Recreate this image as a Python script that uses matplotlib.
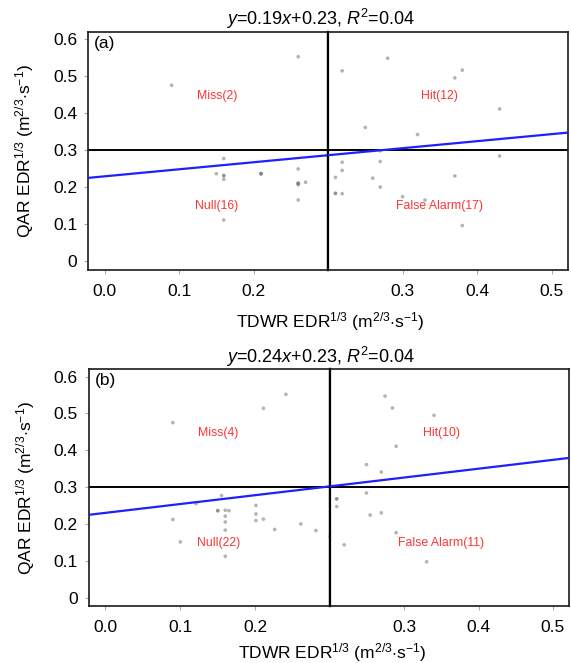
import matplotlib.pyplot as plt
import numpy as np

plt.rcParams['font.family'] = ['Liberation Sans', 'DejaVu Sans']
plt.rcParams['mathtext.fontset'] = 'custom'
plt.rcParams['mathtext.rm'] = 'Liberation Sans'
plt.rcParams['mathtext.it'] = 'Liberation Sans:italic'

# ---- panel (a) ----
a_slope, a_icpt = 0.19, 0.23
a_title = r'$y$=0.19$x$+0.23, $R^2$=0.04'
a_left_x = [0.090, 0.260, 0.160, 0.150, 0.160, 0.160, 0.210, 0.210, 0.210,
            0.260, 0.260, 0.260, 0.260, 0.260, 0.270, 0.260, 0.160, 0.160]
a_left_y = [0.476, 0.553, 0.278, 0.237, 0.232, 0.222, 0.237, 0.237, 0.237,
            0.250, 0.211, 0.211, 0.211, 0.207, 0.214, 0.166, 0.112, 0.232]
a_right_x = [0.219, 0.280, 0.380, 0.370, 0.430, 0.250, 0.320,
             0.270, 0.219, 0.270, 0.219, 0.210, 0.260, 0.270, 0.210, 0.210,
             0.219, 0.300, 0.330, 0.370, 0.430, 0.380]
a_right_y = [0.515, 0.549, 0.517, 0.496, 0.412, 0.362, 0.343,
             0.299, 0.268, 0.270, 0.246, 0.227, 0.225, 0.201, 0.184, 0.184,
             0.183, 0.175, 0.166, 0.231, 0.285, 0.097]
a_labels = ['Miss(2)', 'Null(16)', 'Hit(12)', 'False Alarm(17)']

# ---- panel (b) ----
b_slope, b_icpt = 0.24, 0.23
b_title = r'$y$=0.24$x$+0.23, $R^2$=0.04'
b_left_x = [0.090, 0.211, 0.241,
            0.155, 0.150, 0.150, 0.160, 0.165, 0.160, 0.160, 0.160, 0.160,
            0.090, 0.100, 0.201, 0.201, 0.201, 0.211, 0.226, 0.261, 0.281,
            0.121, 0.300]
b_left_y = [0.475, 0.514, 0.552,
            0.277, 0.236, 0.236, 0.237, 0.236, 0.221, 0.205, 0.183, 0.112,
            0.212, 0.151, 0.250, 0.227, 0.209, 0.213, 0.185, 0.200, 0.182,
            0.255, 0.166]
b_right_x = [0.274, 0.284, 0.340, 0.289, 0.249, 0.269,
             0.249, 0.209, 0.209, 0.209, 0.254, 0.269, 0.289, 0.219, 0.330]
b_right_y = [0.547, 0.515, 0.495, 0.411, 0.361, 0.341,
             0.284, 0.268, 0.268, 0.247, 0.224, 0.230, 0.176, 0.143, 0.097]
b_labels = ['Miss(4)', 'Null(22)', 'Hit(10)', 'False Alarm(11)']

threshold = 0.3
shift = 0.1   # right half of each panel is drawn on a scale shifted by 0.1
left_lim = (-0.022, 0.3)
right_lim = (0.2, 0.522)
y_lim = (-0.023, 0.62)
y_ticks = [0, 0.1, 0.2, 0.3, 0.4, 0.5, 0.6]
y_ticklabels = ['0', '0.1', '0.2', '0.3', '0.4', '0.5', '0.6']
left_xticks = [0.0, 0.1, 0.2]
right_xticks = [0.3, 0.4, 0.5]

xlabel = r'TDWR EDR$^{1/3}$ (m$^{2/3}$$\cdot$s$^{-1}$)'
ylabel = r'QAR EDR$^{1/3}$ (m$^{2/3}$$\cdot$s$^{-1}$)'

fig = plt.figure(figsize=(5.71, 6.63), dpi=100)


def panel(rect_l, rect_r, tag, title, slope, icpt, lx, ly, rx, ry, labels,
          xlab_y, title_y):
    axl = fig.add_axes(rect_l)
    axr = fig.add_axes(rect_r)
    for ax in (axl, axr):
        ax.set_ylim(*y_lim)
        for s in ax.spines.values():
            s.set_linewidth(1.2)
            s.set_color('#1a1a1a')
        ax.axhline(threshold, color='black', lw=1.4, zorder=2)
        ax.tick_params(axis='both', length=3, width=0.8, color='#aaaaaa',
                       labelsize=12.5, direction='out')
        ax.tick_params(axis='x', pad=7)
        ax.tick_params(axis='y', pad=5)
    # the two halves meet in one thick black divider
    axl.spines['right'].set_linewidth(1.6)
    axl.spines['right'].set_color('black')
    axr.spines['left'].set_linewidth(1.6)
    axr.spines['left'].set_color('black')

    axl.set_xlim(*left_lim)
    axr.set_xlim(*right_lim)
    axl.set_xticks(left_xticks)
    axl.set_xticklabels(['%.1f' % t for t in left_xticks])
    axr.set_xticks(right_xticks)
    axr.set_xticklabels(['%.1f' % t for t in right_xticks])
    axl.set_yticks(y_ticks)
    axl.set_yticklabels(y_ticklabels)
    axr.set_yticks([])

    axl.scatter(lx, ly, s=7, color='#777777', alpha=0.55, edgecolors='none', zorder=3)
    axr.scatter(rx, ry, s=7, color='#777777', alpha=0.55, edgecolors='none', zorder=3)

    xl = np.array(left_lim)
    axl.plot(xl, slope * xl + icpt, color='#1f1fff', lw=1.6, zorder=4)
    xr = np.array(right_lim)
    axr.plot(xr, slope * (xr + shift) + icpt, color='#1f1fff', lw=1.6, zorder=4)

    red = '#ff3333'
    fs = 8.8
    axl.text(0.151, 0.448, labels[0], color=red, fontsize=fs, ha='center', va='center')
    axl.text(0.151, 0.149, labels[1], color=red, fontsize=fs, ha='center', va='center')
    axr.text(0.350, 0.448, labels[2], color=red, fontsize=fs, ha='center', va='center')
    axr.text(0.350, 0.149, labels[3], color=red, fontsize=fs, ha='center', va='center')

    axl.text(0.025, 0.985, tag, transform=axl.transAxes, fontsize=12.5,
             ha='left', va='top')

    axl.set_ylabel(ylabel, fontsize=12.5, va='center')
    axl.yaxis.set_label_coords(-0.264, 0.5)
    axl.set_xlabel(xlabel, fontsize=12.5, va='center')
    axl.xaxis.set_label_coords(1.01, xlab_y)

    fig.text(320 / 571, title_y, title, fontsize=13, ha='center', va='center')


panel([0.1546, 0.5928, 0.4198, 0.359], [0.5744, 0.5928, 0.4208, 0.359],
      '(a)', a_title, a_slope, a_icpt, a_left_x, a_left_y, a_right_x, a_right_y,
      a_labels, -0.218, 1 - 18.5 / 663)
panel([0.1559, 0.086, 0.4221, 0.357], [0.578, 0.086, 0.419, 0.357],
      '(b)', b_title, b_slope, b_icpt, b_left_x, b_left_y, b_right_x, b_right_y,
      b_labels, -0.197, 1 - 357 / 663)

fig.savefig('out.png', dpi=100)
